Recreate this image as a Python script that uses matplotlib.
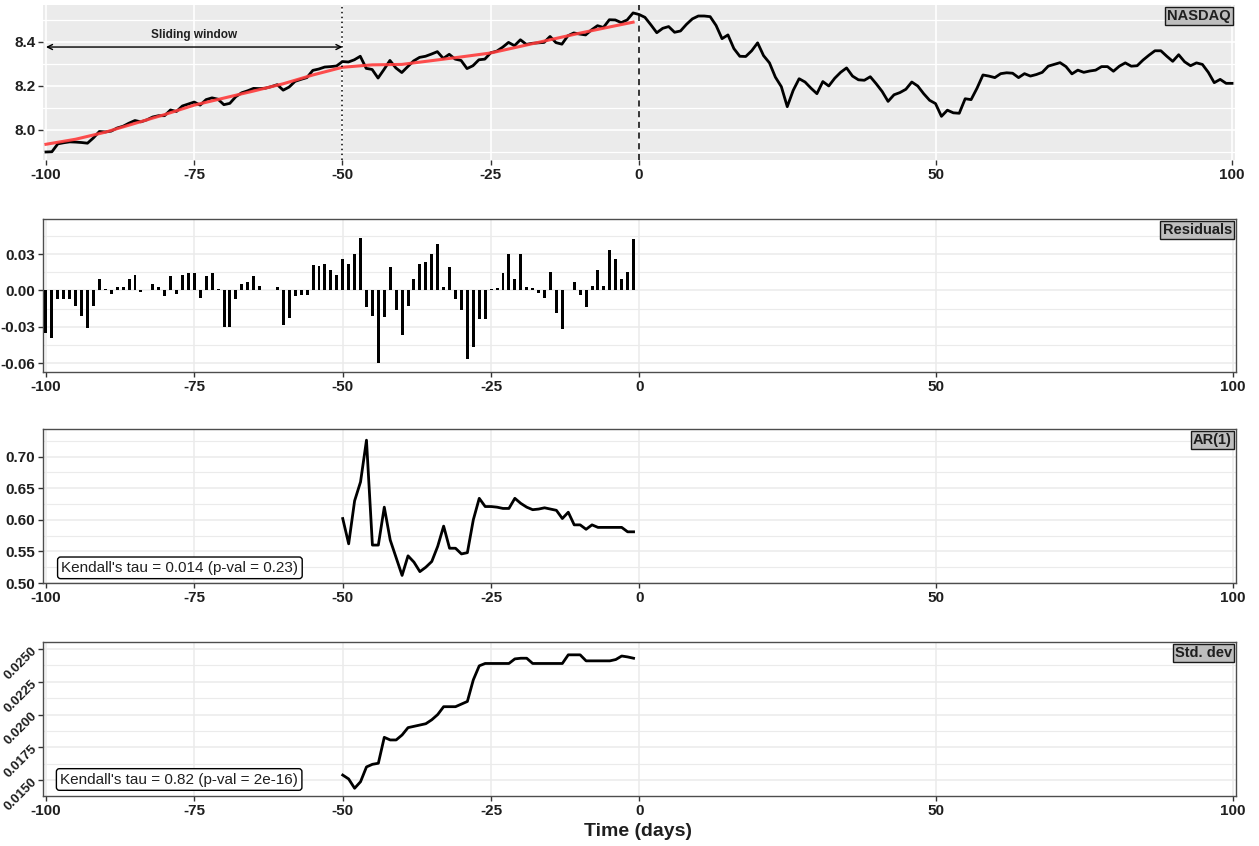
import matplotlib
matplotlib.use("Agg")
import matplotlib.pyplot as plt
import numpy as np
from matplotlib.ticker import FixedLocator, FixedFormatter

plt.rcParams['font.family'] = ['Liberation Sans', 'DejaVu Sans']

# ---- data -----------------------------------------------------------------
days = list(range(-100, 101))
nasdaq = [
    7.900, 7.901, 7.937, 7.942, 7.946, 7.945, 7.943, 7.940, 7.964, 7.993,
    7.991, 7.995, 8.009, 8.017, 8.031, 8.043, 8.037, 8.046, 8.059, 8.065,
    8.065, 8.091, 8.084, 8.109, 8.118, 8.127, 8.113, 8.138, 8.146, 8.140,
    8.115, 8.121, 8.151, 8.169, 8.178, 8.189, 8.188, 8.190, 8.197, 8.206,
    8.181, 8.195, 8.221, 8.230, 8.238, 8.271, 8.277, 8.286, 8.288, 8.291,
    8.311, 8.309, 8.319, 8.335, 8.280, 8.275, 8.236, 8.275, 8.316, 8.282,
    8.261, 8.288, 8.314, 8.330, 8.335, 8.345, 8.356, 8.325, 8.344, 8.322,
    8.316, 8.279, 8.292, 8.319, 8.322, 8.351, 8.358, 8.376, 8.398, 8.383,
    8.410, 8.389, 8.394, 8.396, 8.398, 8.425, 8.397, 8.390, 8.428, 8.441,
    8.436, 8.432, 8.455, 8.474, 8.466, 8.501, 8.500, 8.488, 8.500, 8.532,
    8.525, 8.512, 8.478, 8.442, 8.462, 8.470, 8.444, 8.450, 8.480, 8.505,
    8.518, 8.518, 8.515, 8.475, 8.415, 8.432, 8.370, 8.335, 8.334, 8.360,
    8.396, 8.338, 8.305, 8.240, 8.197, 8.106, 8.180, 8.233, 8.218, 8.190,
    8.165, 8.220, 8.200, 8.235, 8.262, 8.282, 8.245, 8.228, 8.226, 8.242,
    8.210, 8.175, 8.130, 8.160, 8.170, 8.185, 8.218, 8.200, 8.165, 8.135,
    8.120, 8.062, 8.090, 8.078, 8.076, 8.142, 8.138, 8.190, 8.250, 8.245,
    8.238, 8.256, 8.260, 8.258, 8.238, 8.256, 8.245, 8.252, 8.262, 8.290,
    8.298, 8.306, 8.288, 8.255, 8.272, 8.262, 8.268, 8.272, 8.288, 8.288,
    8.267, 8.290, 8.305, 8.290, 8.292, 8.318, 8.340, 8.360, 8.360, 8.335,
    8.312, 8.342, 8.310, 8.292, 8.305, 8.298, 8.262, 8.215, 8.230, 8.212,
    8.212,
]

trend_days = [-100, -95, -90, -85, -80, -75, -70, -65, -60, -55, -50,
              -45, -40, -35, -30, -25, -20, -15, -10, -5, -1]
trend_vals = [7.935, 7.958, 7.990, 8.030, 8.070, 8.113, 8.145, 8.177, 8.210,
              8.250, 8.285, 8.296, 8.298, 8.315, 8.332, 8.350, 8.380, 8.410,
              8.440, 8.468, 8.490]

resid_days = list(range(-100, 0))
residuals = [
    -0.035, -0.039, -0.007, -0.007, -0.007, -0.013, -0.021, -0.031, -0.013, 0.009,
    0.001, -0.003, 0.003, 0.003, 0.009, 0.013, -0.001, 0.000, 0.005, 0.003,
    -0.005, 0.012, -0.003, 0.013, 0.014, 0.014, -0.006, 0.012, 0.014, 0.001,
    -0.030, -0.030, -0.007, 0.005, 0.007, 0.012, 0.004, 0.000, 0.000, 0.003,
    -0.029, -0.023, -0.005, -0.004, -0.004, 0.021, 0.020, 0.022, 0.017, 0.013,
    0.026, 0.022, 0.030, 0.043, -0.014, -0.021, -0.060, -0.022, 0.019, -0.016,
    -0.037, -0.013, 0.009, 0.022, 0.023, 0.030, 0.038, 0.003, 0.019, -0.007,
    -0.016, -0.057, -0.047, -0.024, -0.024, 0.001, 0.002, 0.014, 0.030, 0.009,
    0.030, 0.003, 0.002, -0.002, -0.006, 0.015, -0.019, -0.032, 0.000, 0.007,
    -0.004, -0.014, 0.004, 0.017, 0.004, 0.033, 0.026, 0.009, 0.015, 0.042,
]

ind_days = list(range(-50, 0))
ar1 = [
    0.602, 0.562, 0.630, 0.660, 0.726, 0.560, 0.560, 0.620, 0.568, 0.540,
    0.512, 0.543, 0.533, 0.518, 0.525, 0.534, 0.558, 0.590, 0.555, 0.555,
    0.546, 0.548, 0.600, 0.634, 0.621, 0.621, 0.620, 0.618, 0.618, 0.634,
    0.626, 0.620, 0.616, 0.617, 0.619, 0.617, 0.615, 0.602, 0.612, 0.592,
    0.592, 0.585, 0.592, 0.588, 0.588, 0.588, 0.588, 0.588, 0.581, 0.581,
]
std_dev = [
    0.01538, 0.01508, 0.01437, 0.01487, 0.01600, 0.01620, 0.01628, 0.01826, 0.01806, 0.01806,
    0.01844, 0.01900, 0.01910, 0.01920, 0.01930, 0.01960, 0.02000, 0.02060, 0.02060, 0.02060,
    0.02080, 0.02100, 0.02265, 0.02372, 0.02390, 0.02390, 0.02390, 0.02390, 0.02390, 0.02425,
    0.02430, 0.02430, 0.02390, 0.02390, 0.02390, 0.02390, 0.02390, 0.02390, 0.02456, 0.02456,
    0.02456, 0.02410, 0.02410, 0.02410, 0.02410, 0.02410, 0.02420, 0.02447, 0.02440, 0.02430,
]

x_breaks = [-100, -75, -50, -25, 0, 50, 100]
x_labels = ["-100", "-75", "-50", "-25", "0", "50", "100"]

ar_label = "Kendall's tau = 0.014 (p-val = 0.23)"
sd_label = "Kendall's tau = 0.82 (p-val = 2e-16)"

# ---- layout ---------------------------------------------------------------
W, H = 1259, 846
fig = plt.figure(figsize=(W / 100, H / 100), dpi=100)


def frame(l, t, r, b):
    return [l / W, 1 - b / H, (r - l) / W, (b - t) / H]


TXT = "#1f1f1f"
XLIM = (-100.5, 100.5)


def style_common(ax, yticks, ylabels, minor_y):
    ax.set_xlim(*XLIM)
    ax.xaxis.set_major_locator(FixedLocator(x_breaks))
    ax.xaxis.set_major_formatter(FixedFormatter(x_labels))
    ax.yaxis.set_major_locator(FixedLocator(yticks))
    ax.yaxis.set_major_formatter(FixedFormatter(ylabels))
    ax.yaxis.set_minor_locator(FixedLocator(minor_y))
    ax.tick_params(axis='both', which='major', direction='out', length=3.5,
                   width=1.0, color='#333333', labelsize=11, labelcolor=TXT,
                   pad=2)
    ax.tick_params(axis='y', which='minor', length=0)
    for lab in ax.get_xticklabels() + ax.get_yticklabels():
        lab.set_fontweight('bold')
    ax.set_axisbelow(True)


def strip(ax, text):
    ax.annotate(text, xy=(1, 1), xycoords='axes fraction',
                xytext=(-3, -3), textcoords='offset points',
                ha='right', va='top', fontsize=10.5, fontweight='bold',
                color=TXT, zorder=10,
                bbox=dict(boxstyle='square,pad=0.15', fc='#BEBEBE',
                          ec='#1a1a1a', lw=1.0))


# ---- panel 1: NASDAQ ------------------------------------------------------
ax1 = fig.add_axes(frame(43, 5, 1235, 160))
ax1.set_facecolor('#EBEBEB')
for s in ax1.spines.values():
    s.set_visible(False)
style_common(ax1, [8.0, 8.2, 8.4], ["8.0", "8.2", "8.4"], [7.9, 8.1, 8.3, 8.5])
ax1.set_ylim(7.8636, 8.568)
ax1.grid(True, which='major', color='white', lw=1.2)
ax1.grid(True, which='minor', axis='y', color='white', lw=0.9)
ax1.plot(days, nasdaq, color='black', lw=2.0, zorder=3)
ax1.plot(trend_days, trend_vals, color='#FF3B3B', lw=2.2, alpha=0.9, zorder=4)
ax1.axvline(-50, color='black', ls=(0, (1, 2.2)), lw=1.1, zorder=5)
ax1.axvline(0, color='black', ls=(0, (4, 3)), lw=1.1, zorder=5)
ax1.annotate('', xy=(-50, 8.377), xytext=(-100, 8.377),
             arrowprops=dict(arrowstyle='<->', lw=1.0, color='black',
                             shrinkA=0, shrinkB=0, mutation_scale=9))
ax1.text(-75, 8.432, "Sliding window", ha='center', va='center',
         fontsize=8.5, fontweight='bold', color=TXT)
strip(ax1, "NASDAQ")

# ---- panels 2-4 -----------------------------------------------------------
def framed(ax):
    for s in ax.spines.values():
        s.set_color('#4D4D4D')
        s.set_linewidth(1.0)
    ax.grid(True, which='major', color='#EBEBEB', lw=1.1)
    ax.grid(True, which='minor', axis='y', color='#EBEBEB', lw=0.8)


ax2 = fig.add_axes(frame(43, 219, 1236, 372))
style_common(ax2, [-0.06, -0.03, 0.0, 0.03], ["-0.06", "-0.03", "0.00", "0.03"],
             [-0.045, -0.015, 0.015, 0.045])
ax2.set_ylim(-0.0674, 0.0589)
framed(ax2)
ax2.bar(resid_days, residuals, width=0.5, color='black', zorder=3)
strip(ax2, "Residuals")

ax3 = fig.add_axes(frame(43, 429, 1236, 583))
style_common(ax3, [0.50, 0.55, 0.60, 0.65, 0.70],
             ["0.50", "0.55", "0.60", "0.65", "0.70"],
             [0.525, 0.575, 0.625, 0.675, 0.725])
ax3.set_ylim(0.500, 0.7437)
framed(ax3)
ax3.plot(ind_days, ar1, color='black', lw=2.0, zorder=3)
ax3.text(-97.4, 0.524, ar_label, ha='left', va='center', fontsize=11,
         color=TXT, zorder=6,
         bbox=dict(boxstyle='round,pad=0.25,rounding_size=0.2', fc='white',
                   ec='black', lw=1.0))
strip(ax3, "AR(1)")

ax4 = fig.add_axes(frame(43, 642, 1236, 796))
style_common(ax4, [0.015, 0.0175, 0.020, 0.0225, 0.025],
             ["0.0150", "0.0175", "0.0200", "0.0225", "0.0250"],
             [0.01625, 0.01875, 0.02125, 0.02375])
ax4.set_ylim(0.01378, 0.02554)
framed(ax4)
for lab in ax4.get_yticklabels():
    lab.set_rotation(45)
    lab.set_rotation_mode('anchor')
    lab.set_ha('right')
    lab.set_va('center')
    lab.set_fontsize(9.5)
ax4.plot(ind_days, std_dev, color='black', lw=2.0, zorder=3)
ax4.text(-97.6, 0.01504, sd_label, ha='left', va='center', fontsize=11,
         color=TXT, zorder=6,
         bbox=dict(boxstyle='round,pad=0.25,rounding_size=0.2', fc='white',
                   ec='black', lw=1.0))
strip(ax4, "Std. dev")

fig.text(638 / W, 1 - 831 / H, "Time (days)", ha='center', va='center',
         fontsize=14, fontweight='bold', color=TXT)

fig.savefig("out.png", dpi=100)
